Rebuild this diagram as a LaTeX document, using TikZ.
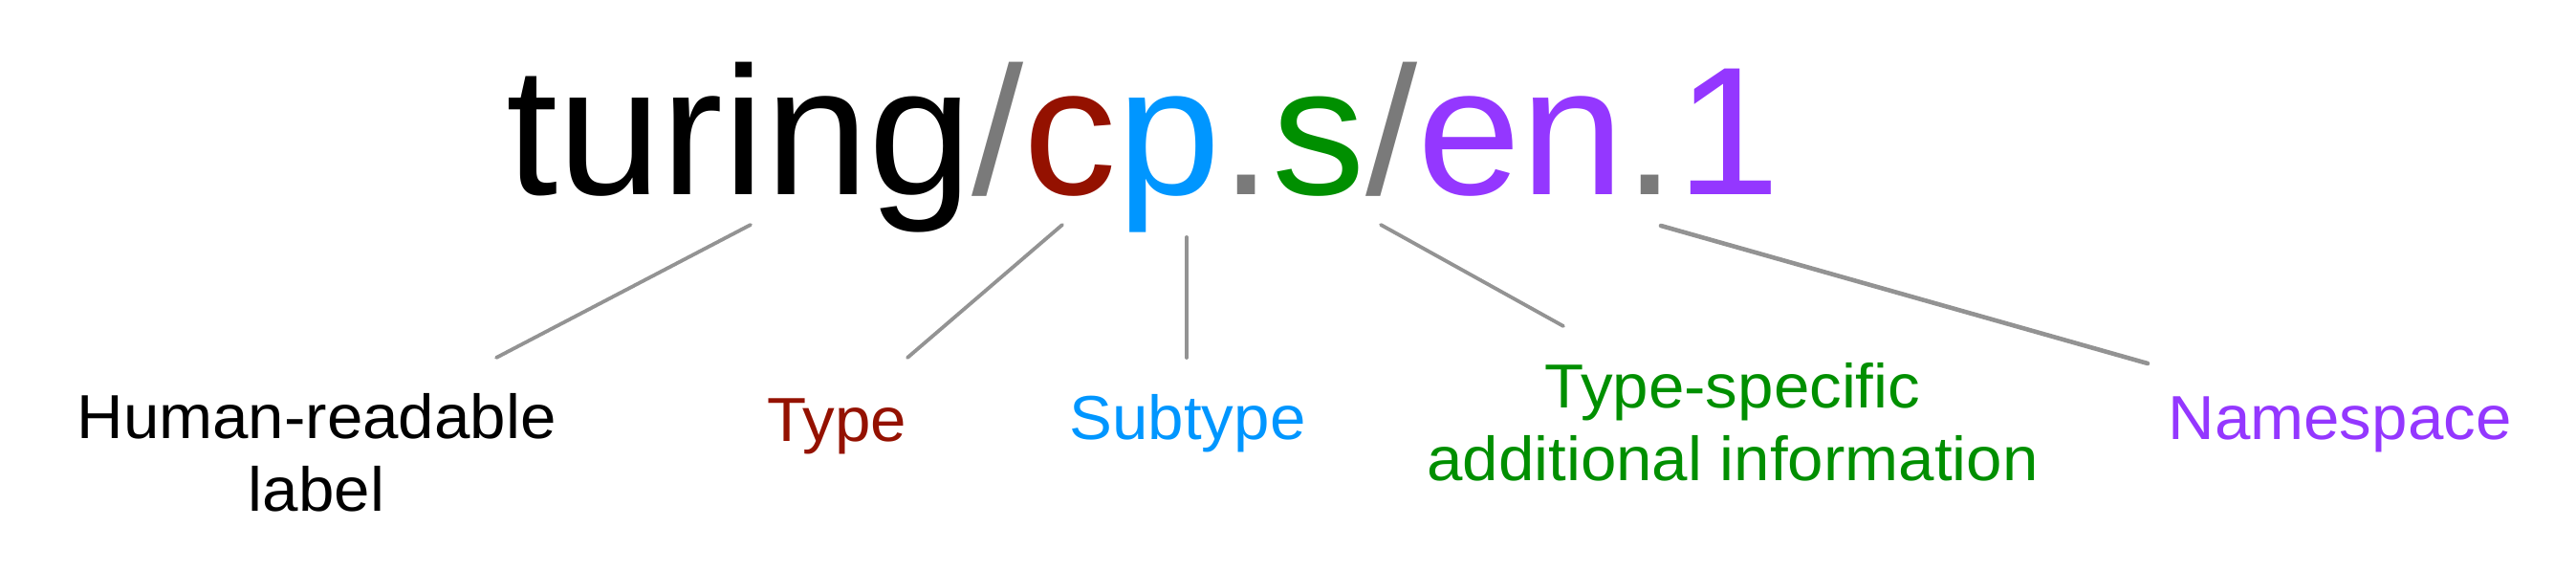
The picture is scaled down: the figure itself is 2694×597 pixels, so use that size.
\documentclass[tikz,border=0pt]{standalone}
\usepackage{fontspec}
\setmainfont{Liberation Sans}[FakeStretch=1.035]
\newfontfamily\idfont{Liberation Sans}[FakeStretch=1.02]
\definecolor{cayenne}{HTML}{941100}
\definecolor{aqua}{HTML}{0096FF}
\definecolor{clover}{HTML}{008F00}
\definecolor{grape}{HTML}{9437FF}
\definecolor{slashgray}{HTML}{7A7A7A}
\definecolor{linegray}{HTML}{939393}
\begin{document}
\begin{tikzpicture}[x=0.5pt,y=-0.5pt,
  idtext/.style={anchor=base west, inner sep=0pt, font=\idfont\fontsize{95.5pt}{110pt}\selectfont},
  lbl/.style={anchor=base, inner sep=0pt, align=center, font=\fontsize{32.5pt}{38.25pt}\selectfont},
  conn/.style={draw=linegray, line width=1.9pt, line cap=round},
  connthick/.style={conn, line width=2.3pt}]
\useasboundingbox (0,0) rectangle (2694,597);
\node[idtext] (id) at (529,204) {turing\textcolor{slashgray}{/}\textcolor{cayenne}{c}\textcolor{aqua}{p}\textcolor{slashgray}{.}\textcolor{clover}{s}\textcolor{slashgray}{/}\textcolor{grape}{en}\textcolor{slashgray}{.}\textcolor{grape}{1}};
\node[lbl] (human) at (331,535) {Human-readable\\label};
\node[lbl, text=cayenne] (type) at (875,462) {Type};
\node[lbl, text=aqua] (subtype) at (1242,460) {Subtype};
\node[lbl, text=clover] (specific) at (1812,503) {Type-specific\\additional information};
\node[lbl, text=grape] (namespace) at (2447,460) {Namespace};
\coordinate (h1) at (785,235); \coordinate (h2) at (519,374);
\coordinate (t1) at (1111,235); \coordinate (t2) at (949,374);
\coordinate (s1) at (1241,248); \coordinate (s2) at (1241,374);
\coordinate (a1) at (1444,235); \coordinate (a2) at (1635,341);
\coordinate (n1) at (1737,236); \coordinate (n2) at (2246,380);
\draw[conn] (h1) -- (h2);
\draw[conn] (t1) -- (t2);
\draw[conn] (s1) -- (s2);
\draw[conn] (a1) -- (a2);
\draw[connthick] (n1) -- (n2);
\end{tikzpicture}
\end{document}
